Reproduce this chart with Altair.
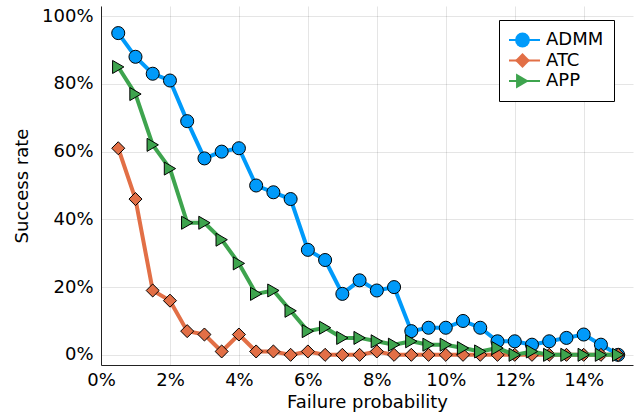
import altair as alt
import pandas as pd

# Failure probability (%) for each experiment
failure_pct = [0.5, 1.0, 1.5, 2.0, 2.5, 3.0, 3.5, 4.0, 4.5, 5.0,
               5.5, 6.0, 6.5, 7.0, 7.5, 8.0, 8.5, 9.0, 9.5, 10.0,
               10.5, 11.0, 11.5, 12.0, 12.5, 13.0, 13.5, 14.0, 14.5, 15.0]

# Success rate (%) per algorithm
admm = [95, 88, 83, 81, 69, 58, 60, 61, 50, 48,
        46, 31, 28, 18, 22, 19, 20, 7, 8, 8,
        10, 8, 4, 4, 3, 4, 5, 6, 3, 0]
atc = [61, 46, 19, 16, 7, 6, 1, 6, 1, 1,
       0, 1, 0, 0, 0, 1, 0, 0, 0, 0,
       0, 0, 0, 0, 0, 0, 0, 0, 0, 0]
app = [85, 77, 62, 55, 39, 39, 34, 27, 18, 19,
       13, 7, 8, 5, 5, 4, 3, 4, 3, 3,
       2, 1, 2, 0, 1, 0, 0, 0, 0, 0]

methods = ["ADMM", "ATC", "APP"]
colors = ["#009AFA", "#E26F46", "#3EA44E"]
shapes = ["circle", "diamond", "triangle-right"]

x_ticks = [0, 2, 4, 6, 8, 10, 12, 14]
y_ticks = [0, 20, 40, 60, 80, 100]

rows = []
for k, (name, values) in enumerate(zip(methods, [admm, atc, app])):
    for p, r in zip(failure_pct, values):
        rows.append({"prob": p, "rate": r, "method": name,
                     "series": name, "order": k})
df = pd.DataFrame(rows)

FONT = "DejaVu Sans"

x_enc = alt.X(
    "prob:Q",
    scale=alt.Scale(domain=[0, 15.43], nice=False, zero=False),
    axis=alt.Axis(values=x_ticks, labelExpr="datum.value + '%'",
                  labelFlush=False, title="Failure probability",
                  labelPadding=6, titlePadding=4),
)
y_enc = alt.Y(
    "rate:Q",
    scale=alt.Scale(domain=[-3, 103], nice=False, zero=False),
    axis=alt.Axis(values=y_ticks, labelExpr="datum.value + '%'",
                  labelFlush=False, title="Success rate",
                  labelPadding=8, titlePadding=10),
)

# Legend drawing the coloured line segments, labels and the framed box
line_legend = alt.Legend(
    orient="none", legendX=398, legendY=14, title=None,
    symbolType="stroke", symbolSize=1225, symbolStrokeWidth=2,
    symbolOffset=-5, labelOffset=5, clipHeight=20, rowPadding=0.5,
    padding=10, fillColor="white", strokeColor="black",
    labelFont=FONT, labelFontSize=18, labelColor="black", zindex=0,
)
# Legend drawing only the markers on top of the line segments
marker_legend = alt.Legend(
    orient="none", legendX=398, legendY=14, title=None,
    symbolSize=220, symbolStrokeColor="black", symbolStrokeWidth=1,
    symbolOffset=4.5, clipHeight=20, rowPadding=0.5, padding=10,
    labelFont=FONT, labelFontSize=18, labelExpr="''", zindex=1,
)

series_sort = alt.EncodingSortField(field="order", op="min")
color_enc = alt.Color("method:N", scale=alt.Scale(domain=methods, range=colors),
                      legend=line_legend)
fill_enc = alt.Fill("series:N", sort=series_sort, scale=alt.Scale(range=colors),
                    legend=marker_legend)
shape_enc = alt.Shape("series:N", sort=series_sort, scale=alt.Scale(range=shapes),
                      legend=marker_legend)

base = alt.Chart(df)
layers = []
for name in methods:
    sub = base.transform_filter(alt.datum.method == name)
    layers.append(
        sub.mark_line(strokeWidth=4, strokeJoin="round")
        .encode(x=x_enc, y=y_enc, color=color_enc)
    )
    layers.append(
        sub.mark_point(filled=True, size=170, opacity=1, fillOpacity=1,
                       stroke="black", strokeWidth=1)
        .encode(x=x_enc, y=y_enc, fill=fill_enc, shape=shape_enc)
    )

chart = (
    alt.layer(*layers)
    .properties(
        width=532, height=359,
        autosize=alt.AutoSizeParams(type="none"),
        padding={"left": 101, "top": 6, "right": 9, "bottom": 52},
        background="white",
    )
    .configure_view(stroke="transparent")
    .configure_axis(
        labelFont=FONT, labelFontSize=18, labelColor="black",
        titleFont=FONT, titleFontSize=18, titleFontWeight="normal",
        titleColor="black", domainColor="#222222", domainWidth=1,
        ticks=False, gridColor="black", gridOpacity=0.1, gridWidth=1,
    )
)

chart.save("out.html", embed_options={"renderer": "svg", "actions": False})
